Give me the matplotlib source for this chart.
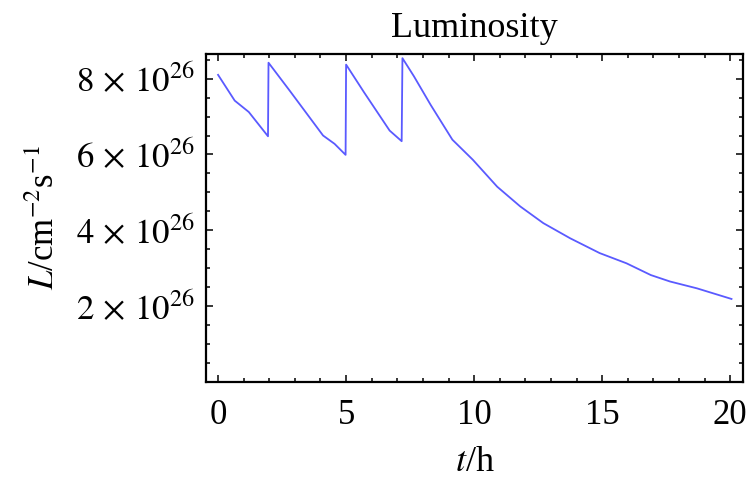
import numpy as np
import matplotlib.pyplot as plt
from matplotlib.ticker import MultipleLocator, FuncFormatter

plt.rcParams['font.family'] = ['Liberation Serif', 'DejaVu Serif']
plt.rcParams['mathtext.fontset'] = 'stix'

# luminosity curve (t in hours, L in units of 1e26 cm^-2 s^-1)
t_hours = [0.0, 0.65, 1.2, 1.95, 1.97, 2.8, 4.1, 4.55, 4.98, 5.0, 5.7, 6.7, 7.17, 7.2,
           7.65, 8.3, 9.15, 9.95, 10.9, 11.8, 12.7, 13.75, 14.9, 15.95, 16.9, 17.65,
           18.7, 20.05]
lum = [8.10, 7.42, 7.12, 6.48, 8.42, 7.68, 6.50, 6.28, 5.99, 8.37, 7.64, 6.63, 6.35, 8.54,
       8.06, 7.31, 6.39, 5.86, 5.15, 4.63, 4.19, 3.79, 3.40, 3.13, 2.82, 2.65,
       2.47, 2.19]
y_ticks = [2, 4, 6, 8]

t = np.array(t_hours)
L = np.array(lum) * 1e26

fig = plt.figure(figsize=(7.5, 4.79), dpi=100)
ax = fig.add_axes([0.2747, 0.2025, 0.716, 0.6848])

ax.plot(t, L, color='#5a5aff', lw=1.3)

ax.set_xlim(-0.47, 20.5)
ax.set_ylim(0, 8.65e26)

ax.xaxis.set_major_locator(MultipleLocator(5))
ax.xaxis.set_minor_locator(MultipleLocator(1))
ax.set_yticks([v * 1e26 for v in y_ticks])
ax.yaxis.set_minor_locator(MultipleLocator(0.5e26))
ax.yaxis.set_major_formatter(FuncFormatter(
    lambda v, p: r"$%d\,\times\,10^{26}$" % round(v / 1e26)))

ax.tick_params(which='both', direction='in', top=True, right=True, width=1.1,
               labelsize=25)
ax.tick_params(axis='x', pad=12)
ax.tick_params(axis='y', pad=8)
ax.tick_params(which='major', length=5)
ax.tick_params(which='minor', length=3)
for s in ax.spines.values():
    s.set_linewidth(1.6)

ax.set_title('Luminosity', fontsize=26, pad=12)
ax.set_xlabel(r'$t$/h', fontsize=26, labelpad=10)
ax.set_ylabel(r'$L$/cm$^{-2}$s$^{-1}$', fontsize=25, labelpad=10)

plt.savefig('out.png', dpi=100)
